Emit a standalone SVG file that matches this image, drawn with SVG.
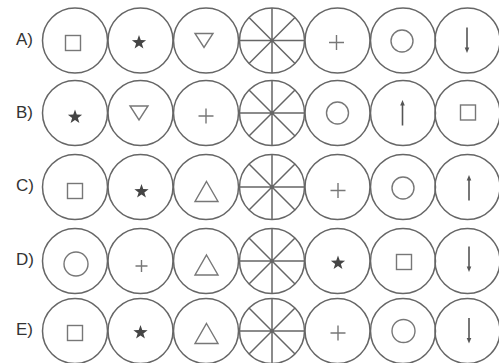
<svg xmlns="http://www.w3.org/2000/svg" xmlns:xlink="http://www.w3.org/1999/xlink" width="499" height="363" viewBox="0 0 499 363">
<style>
.c{fill:none;stroke:#666;stroke-width:1.5}
.s{fill:none;stroke:#777;stroke-width:1.4}
.f{fill:#444;stroke:none}
.a{fill:#555;stroke:none}
.al{stroke:#555;stroke-width:1.6}
.lbl{font-family:"Liberation Sans",Arial,sans-serif;font-size:17px;fill:#333}
</style>
<defs>
<g id="wheel"><circle class="c" r="32.5"/><path class="c" d="M-32.5 0H32.5M0 -32.5V32.5M-23 -23L23 23M-23 23L23 -23"/></g>
<rect id="sq" class="s" x="-7.5" y="-7.5" width="15" height="15"/>
<polygon id="star" class="f" points="0,-7.5 1.763,-2.427 7.133,-2.318 2.853,0.927 4.408,6.068 0,3 -4.408,6.068 -2.853,0.927 -7.133,-2.318 -1.763,-2.427"/>
<polygon id="tdown" class="s" points="-9,-7 9,-7 0,7"/>
<polygon id="tup" class="s" points="0,-10 11.5,10 -11.5,10"/>
<path id="plus" class="s" d="M-7.5 0H7.5M0 -7.5V7.5"/>
<path id="plusS" class="s" d="M-6 0H6M0 -6V6"/>
<circle id="circ" class="s" r="11"/>
<g id="adown"><line class="al" x1="0" y1="-12.5" x2="0" y2="9"/><polygon class="a" points="-2.3,7.5 2.3,7.5 0,13"/></g>
<g id="aup"><line class="al" x1="0" y1="12.5" x2="0" y2="-9"/><polygon class="a" points="-2.3,-7.5 2.3,-7.5 0,-13"/></g>
</defs>

<g id="labels">
<text class="lbl" x="16" y="44.5">A)</text>
<text class="lbl" x="16" y="117.5">B)</text>
<text class="lbl" x="16" y="190.5">C)</text>
<text class="lbl" x="16" y="265">D)</text>
<text class="lbl" x="16" y="335">E)</text>
</g>

<g id="rowA">
<g id="A1"><circle class="c" cx="75" cy="40.5" r="32.5"/><use xlink:href="#sq" x="73" y="43"/></g>
<g id="A2"><circle class="c" cx="140.5" cy="40.5" r="32.5"/><use xlink:href="#star" x="139" y="42.5"/></g>
<g id="A3"><circle class="c" cx="206" cy="40.5" r="32.5"/><use xlink:href="#tdown" x="204" y="40.5"/></g>
<g id="A4"><use xlink:href="#wheel" x="272" y="40.5"/></g>
<g id="A5"><circle class="c" cx="337.5" cy="40.5" r="32.5"/><use xlink:href="#plus" x="336.5" y="42.5"/></g>
<g id="A6"><circle class="c" cx="403" cy="40.5" r="32.5"/><use xlink:href="#circ" x="402" y="41"/></g>
<g id="A7"><circle class="c" cx="467.5" cy="40.5" r="32.5"/><use xlink:href="#adown" x="467" y="40"/></g>
</g>

<g id="rowB">
<g id="B1"><circle class="c" cx="75" cy="113" r="32.5"/><use xlink:href="#star" x="75" y="117"/></g>
<g id="B2"><circle class="c" cx="140.5" cy="113" r="32.5"/><use xlink:href="#tdown" x="139" y="113"/></g>
<g id="B3"><circle class="c" cx="206" cy="113" r="32.5"/><use xlink:href="#plus" x="206" y="116"/></g>
<g id="B4"><use xlink:href="#wheel" x="272" y="113"/></g>
<g id="B5"><circle class="c" cx="337.5" cy="113" r="32.5"/><use xlink:href="#circ" x="337.5" y="113"/></g>
<g id="B6"><circle class="c" cx="403" cy="113" r="32.5"/><use xlink:href="#aup" x="402.5" y="113"/></g>
<g id="B7"><circle class="c" cx="467.5" cy="113" r="32.5"/><use xlink:href="#sq" x="468" y="112.5"/></g>
</g>

<g id="rowC">
<g id="C1"><circle class="c" cx="75" cy="187" r="32.5"/><use xlink:href="#sq" x="75" y="191"/></g>
<g id="C2"><circle class="c" cx="140.5" cy="187" r="32.5"/><use xlink:href="#star" x="141.5" y="191.5"/></g>
<g id="C3"><circle class="c" cx="206" cy="187" r="32.5"/><use xlink:href="#tup" x="206.5" y="191.5"/></g>
<g id="C4"><use xlink:href="#wheel" x="272" y="187"/></g>
<g id="C5"><circle class="c" cx="337.5" cy="187" r="32.5"/><use xlink:href="#plus" x="338" y="190.5"/></g>
<g id="C6"><circle class="c" cx="403" cy="187" r="32.5"/><use xlink:href="#circ" x="403" y="188"/></g>
<g id="C7"><circle class="c" cx="467.5" cy="187" r="32.5"/><use xlink:href="#aup" x="469" y="188"/></g>
</g>

<g id="rowD">
<g id="D1"><circle class="c" cx="75" cy="261" r="32.5"/><circle class="s" cx="76" cy="264" r="12"/></g>
<g id="D2"><circle class="c" cx="140.5" cy="261" r="32.5"/><use xlink:href="#plusS" x="141.5" y="266"/></g>
<g id="D3"><circle class="c" cx="206" cy="261" r="32.5"/><use xlink:href="#tup" x="206.5" y="265"/></g>
<g id="D4"><use xlink:href="#wheel" x="272" y="261"/></g>
<g id="D5"><circle class="c" cx="337.5" cy="261" r="32.5"/><use xlink:href="#star" x="338" y="263"/></g>
<g id="D6"><circle class="c" cx="403" cy="261" r="32.5"/><use xlink:href="#sq" x="404" y="262"/></g>
<g id="D7"><circle class="c" cx="467.5" cy="261" r="32.5"/><use xlink:href="#adown" x="469" y="259"/></g>
</g>

<g id="rowE">
<g id="E1"><circle class="c" cx="75" cy="331" r="32.5"/><use xlink:href="#sq" x="75" y="333"/></g>
<g id="E2"><circle class="c" cx="140.5" cy="331" r="32.5"/><use xlink:href="#star" x="140.5" y="332.5"/></g>
<g id="E3"><circle class="c" cx="206" cy="331" r="32.5"/><use xlink:href="#tup" x="206.5" y="333.5"/></g>
<g id="E4"><use xlink:href="#wheel" x="272" y="331"/></g>
<g id="E5"><circle class="c" cx="337.5" cy="331" r="32.5"/><use xlink:href="#plus" x="338" y="333"/></g>
<g id="E6"><circle class="c" cx="403" cy="331" r="32.5"/><circle class="s" cx="403.5" cy="331" r="11.5"/></g>
<g id="E7"><circle class="c" cx="467.5" cy="331" r="32.5"/><use xlink:href="#adown" x="469" y="330.5"/></g>
</g>
</svg>
